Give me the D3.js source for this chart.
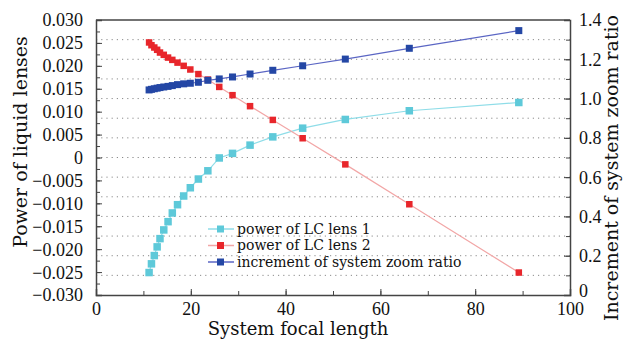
<!DOCTYPE html>
<html>
<head>
<meta charset="utf-8">
<script src="https://cdn.jsdelivr.net/npm/d3@7"></script>
<style>
  body { margin: 0; background: #fff; }
  svg { display: block; }
  svg text { font-family: "Liberation Serif", "DejaVu Serif", serif; }
  svg text.title, svg text.legend { font-family: "DejaVu Serif", "Liberation Serif", serif; }
</style>
</head>
<body>
<svg id="chart" width="623" height="340"></svg>
<script>
// focal lengths (x) shared by all three series
var focal = [11.2, 11.7, 12.3, 12.9, 13.5, 14.3, 15.2, 16.1, 17.2, 18.5, 19.9,
             21.6, 23.6, 26.0, 28.8, 32.5, 37.3, 43.6, 52.6, 66.1, 89.2];
var lens1 = [-0.0251, -0.0232, -0.0214, -0.0195, -0.0177, -0.0158, -0.0140, -0.0121,
             -0.0103, -0.0084, -0.0066, -0.0047, -0.0029, -0.0001, 0.0009, 0.0027,
             0.0045, 0.0064, 0.0083, 0.0102, 0.0120];
var lens2 = [0.0251, 0.0245, 0.0240, 0.0235, 0.0229, 0.0224, 0.0218, 0.0213, 0.0207,
             0.0200, 0.0192, 0.0182, 0.0170, 0.0154, 0.0136, 0.0112, 0.0082, 0.0042,
             -0.0015, -0.0102, -0.0251];
var zoomInc = [1.044, 1.047, 1.050, 1.053, 1.056, 1.059, 1.062, 1.066, 1.071, 1.075,
               1.078, 1.083, 1.093, 1.100, 1.110, 1.125, 1.144, 1.167, 1.201, 1.256, 1.346];

var xTicks = [0, 20, 40, 60, 80, 100];
var yLeftTicks = d3.range(-0.030, 0.0301, 0.005);
var yRightTicks = [0, 0.2, 0.4, 0.6, 0.8, 1.0, 1.2, 1.4];

var seriesNames = ["power of LC lens 1", "power of LC lens 2", "increment of system zoom ratio"];

var svg = d3.select("#chart");
var margin = {top: 20, right: 53, bottom: 45, left: 96};
var width = 623 - margin.left - margin.right;
var height = 340 - margin.top - margin.bottom;

var x = d3.scaleLinear().domain([0, 100]).range([0, width]);
var yL = d3.scaleLinear().domain([-0.030, 0.030]).range([height, 0]);
var yR = d3.scaleLinear().domain([0, 1.4]).range([height, 0]);

var g = svg.append("g").attr("transform", "translate(" + margin.left + "," + margin.top + ")");

// dotted grid at every 0.1 of the right axis
g.append("g").selectAll("line")
  .data(d3.range(1, 14).map(function(i) { return i / 10; }))
  .enter().append("line")
  .attr("x1", 0).attr("x2", width)
  .attr("y1", function(d) { return yR(d); })
  .attr("y2", function(d) { return yR(d); })
  .attr("stroke", "#8a8a8a")
  .attr("stroke-width", 1)
  .attr("stroke-dasharray", "1.2,4");

function fmtL(d) {
  if (Math.abs(d) < 1e-9) return "0";
  return d3.format(".3f")(d).replace("-", "\u2212");
}

function styleAxis(a, major) {
  a.attr("font-family", null);
  if (major) {
    a.select(".domain").attr("stroke", "#444").attr("stroke-width", 1.5);
    a.selectAll("text").attr("font-size", 18).attr("fill", "#111");
  } else {
    a.selectAll(".domain").remove();
  }
  a.selectAll("line").attr("stroke", "#444");
}

// left axis
styleAxis(g.append("g")
  .call(d3.axisLeft(yL).tickValues(d3.range(-0.030, 0.0301, 0.0025)).tickSize(-4).tickFormat("")), false);
var axL2 = g.append("g")
  .call(d3.axisLeft(yL).tickValues(yLeftTicks).tickSize(-6).tickPadding(13).tickFormat(fmtL));
styleAxis(axL2, true);
axL2.selectAll("text").attr("dy", "0.33em");

// right axis
styleAxis(g.append("g").attr("transform", "translate(" + width + ",0)")
  .call(d3.axisRight(yR).tickValues(d3.range(0, 15).map(function(i) { return i / 10; })).tickSize(-4).tickFormat("")), false);
var axR2 = g.append("g").attr("transform", "translate(" + width + ",0)")
  .call(d3.axisRight(yR).tickValues(yRightTicks).tickSize(-6).tickPadding(9)
    .tickFormat(function(d) { return d === 0 ? "0" : d3.format(".1f")(d); }));
styleAxis(axR2, true);
axR2.selectAll("text").attr("dy", function(d) { return d === 0 ? "0.1em" : "0.33em"; });

// bottom axis
styleAxis(g.append("g").attr("transform", "translate(0," + height + ")")
  .call(d3.axisBottom(x).tickValues(d3.range(0, 101, 10)).tickSize(-4).tickFormat("")), false);
var axB2 = g.append("g").attr("transform", "translate(0," + height + ")")
  .call(d3.axisBottom(x).tickValues(xTicks).tickSize(-6).tickPadding(7));
styleAxis(axB2, true);

// top frame
g.append("line").attr("x1", 0).attr("x2", width).attr("y1", 0).attr("y2", 0)
  .attr("stroke", "#444").attr("stroke-width", 1.5);

// series
var series = [
  {name: seriesNames[0], y: yL, values: lens1, line: "#8fdde8", fill: "#5ec9d9", size: 7.5},
  {name: seriesNames[1], y: yL, values: lens2, line: "#f2a6a6", fill: "#e8262b", size: 6.5},
  {name: seriesNames[2], y: yR, values: zoomInc, line: "#5b66c4", fill: "#2447a5", size: 7}
];

series.forEach(function(s) {
  var pts = focal.map(function(f, i) { return [f, s.values[i]]; });
  var line = d3.line()
    .x(function(d) { return x(d[0]); })
    .y(function(d) { return s.y(d[1]); });
  g.append("path").datum(pts)
    .attr("fill", "none").attr("stroke", s.line).attr("stroke-width", 1.2)
    .attr("d", line);
  g.append("g").selectAll("rect").data(pts).enter().append("rect")
    .attr("x", function(d) { return x(d[0]) - s.size / 2; })
    .attr("y", function(d) { return s.y(d[1]) - s.size / 2; })
    .attr("width", s.size).attr("height", s.size)
    .attr("fill", s.fill);
});

// legend
var legend = g.append("g").attr("transform", "translate(112,209)")
  .selectAll("g").data(series).enter().append("g")
  .attr("transform", function(d, i) { return "translate(0," + i * 16.5 + ")"; });
legend.append("line").attr("x1", 0).attr("x2", 26).attr("y1", 0).attr("y2", 0)
  .attr("stroke", function(d) { return d.line; }).attr("stroke-width", 1.5);
legend.append("rect").attr("x", 9).attr("y", -3.5).attr("width", 7).attr("height", 7)
  .attr("fill", function(d) { return d.fill; });
legend.append("text").attr("class", "legend").attr("x", 29).attr("dy", "0.35em")
  .attr("font-size", 14).attr("fill", "#111")
  .text(function(d) { return d.name; });

// axis titles
svg.append("text").attr("class", "title").attr("x", 298).attr("y", 335).attr("text-anchor", "middle")
  .attr("font-size", 18).attr("fill", "#111")
  .text("System focal length");
svg.append("text").attr("class", "title").attr("transform", "translate(27,142) rotate(-90)").attr("text-anchor", "middle")
  .attr("font-size", 19).attr("fill", "#111")
  .text("Power of liquid lenses");
svg.append("text").attr("class", "title").attr("transform", "translate(618,168) rotate(-90)").attr("text-anchor", "middle")
  .attr("font-size", 19).attr("fill", "#111")
  .text("Increment of system zoom ratio");
</script>
</body>
</html>
